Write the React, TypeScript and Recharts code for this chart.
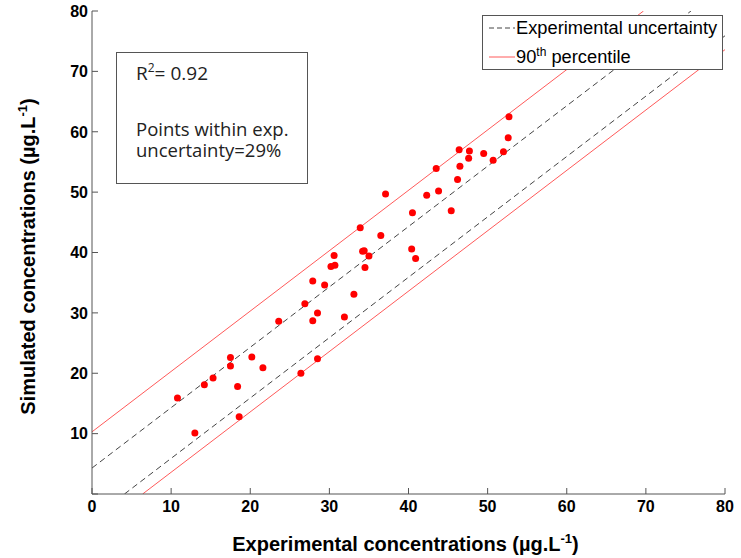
import { ComposedChart, Label, Line, Scatter, XAxis, YAxis } from 'recharts'

const TICKS = [0, 10, 20, 30, 40, 50, 60, 70, 80]

// experimental vs simulated concentrations
const points = [
  { x: 10.8, y: 15.9 }, { x: 13.0, y: 10.1 }, { x: 14.2, y: 18.1 }, { x: 15.3, y: 19.2 },
  { x: 17.5, y: 22.6 }, { x: 17.5, y: 21.2 }, { x: 18.4, y: 17.8 }, { x: 18.6, y: 12.8 },
  { x: 20.2, y: 22.7 }, { x: 21.6, y: 20.9 }, { x: 23.6, y: 28.6 }, { x: 26.4, y: 20.0 },
  { x: 26.9, y: 31.5 }, { x: 27.9, y: 28.7 }, { x: 27.9, y: 35.3 }, { x: 28.5, y: 30.0 },
  { x: 28.5, y: 22.4 }, { x: 29.4, y: 34.6 }, { x: 30.2, y: 37.7 }, { x: 30.7, y: 37.9 },
  { x: 30.6, y: 39.5 }, { x: 31.9, y: 29.3 }, { x: 33.1, y: 33.1 }, { x: 33.9, y: 44.1 },
  { x: 34.2, y: 40.2 }, { x: 34.4, y: 40.3 }, { x: 34.5, y: 37.5 }, { x: 35.0, y: 39.4 },
  { x: 36.5, y: 42.8 }, { x: 37.1, y: 49.7 }, { x: 40.4, y: 40.6 }, { x: 40.9, y: 39.0 },
  { x: 40.5, y: 46.6 }, { x: 42.3, y: 49.5 }, { x: 43.5, y: 53.9 }, { x: 43.8, y: 50.2 },
  { x: 45.4, y: 46.9 }, { x: 46.2, y: 52.1 }, { x: 46.4, y: 57.0 }, { x: 46.5, y: 54.3 },
  { x: 47.6, y: 55.6 }, { x: 47.7, y: 56.8 }, { x: 49.5, y: 56.4 }, { x: 50.7, y: 55.3 },
  { x: 52.0, y: 56.7 }, { x: 52.6, y: 59.0 }, { x: 52.7, y: 62.5 },
]

const uncertaintyUpper = [{ x: 0, y: 4.3 }, { x: 75.7, y: 80 }]
const uncertaintyLower = [{ x: 4.1, y: 0 }, { x: 80, y: 75.9 }]
const percentileUpper = [{ x: 0, y: 10.3 }, { x: 69.7, y: 80 }]
const percentileLower = [{ x: 6.4, y: 0 }, { x: 80, y: 73.6 }]

const AXIS = '#555'
const RED = '#ff0000'
const RED_LINE = '#ff5a5a'
const DASH = '#444'
const tickFont = { fontFamily: '"Liberation Sans", Arial, sans-serif', fontWeight: 700, fontSize: 16, fill: '#000' }
const titleFont = { fontFamily: '"Liberation Sans", Arial, sans-serif', fontWeight: 700, fontSize: 20, fill: '#000' }
const noteFont = '"Open Sans", sans-serif'

const BottomTick = ({ x, y, payload }: any) => (
  <g>
    <line x1={x} x2={x} y1={y} y2={y - 6} stroke={AXIS} />
    <text x={x} y={y + 18} textAnchor="middle" {...tickFont}>{payload.value}</text>
  </g>
)
const LeftTick = ({ x, y, payload }: any) => (
  <g>
    <line x1={x} x2={x + 6} y1={y} y2={y} stroke={AXIS} />
    {payload.value !== 0 && (
      <text x={x - 4} y={y} dy="0.36em" textAnchor="end" {...tickFont}>{payload.value}</text>
    )}
  </g>
)
const TopTick = ({ x, y }: any) => <line x1={x} x2={x} y1={y} y2={y + 6} stroke={AXIS} />
const RightTick = ({ x, y }: any) => <line x1={x} x2={x - 6} y1={y} y2={y} stroke={AXIS} />

const XTitle = ({ viewBox }: any) => (
  <text x={viewBox.x + viewBox.width / 2 - 3} y={viewBox.y + 57} textAnchor="middle" {...titleFont}>
    Experimental concentrations (µg.L<tspan dy={-8} fontSize={13}>-1</tspan><tspan dy={8}>)</tspan>
  </text>
)
const YTitle = ({ viewBox }: any) => {
  const cx = 35
  const cy = viewBox.y + viewBox.height / 2 + 4
  return (
    <text x={cx} y={cy} textAnchor="middle" transform={`rotate(-90 ${cx} ${cy})`} {...titleFont}>
      Simulated concentrations (µg.L<tspan dy={-8} fontSize={13}>-1</tspan><tspan dy={8}>)</tspan>
    </text>
  )
}

export default function App() {
  return (
    <div style={{ position: 'absolute', left: 0, top: 0, width: 741, height: 558, background: '#fff' }}>
      <ComposedChart width={741} height={558} margin={{ top: 11, right: 16, bottom: 0, left: 0 }}>
        <XAxis xAxisId="b" dataKey="x" type="number" domain={[0, 80]} ticks={TICKS} allowDataOverflow
          height={64} tickSize={0} tickMargin={0} tickLine={false} axisLine={{ stroke: AXIS }} tick={<BottomTick />}>
          <Label content={<XTitle />} />
        </XAxis>
        <XAxis xAxisId="t" orientation="top" dataKey="x" type="number" domain={[0, 80]} ticks={TICKS}
          height={0} tickSize={0} tickMargin={0} tickLine={false} axisLine={{ stroke: AXIS }} tick={<TopTick />} />
        <YAxis yAxisId="l" dataKey="y" type="number" domain={[0, 80]} ticks={TICKS} allowDataOverflow
          width={92} tickSize={0} tickMargin={0} tickLine={false} axisLine={{ stroke: AXIS }} tick={<LeftTick />}>
          <Label content={<YTitle />} />
        </YAxis>
        <YAxis yAxisId="r" orientation="right" dataKey="y" type="number" domain={[0, 80]} ticks={TICKS}
          width={0} tickSize={0} tickMargin={0} tickLine={false} axisLine={{ stroke: AXIS }} tick={<RightTick />} />

        <Line xAxisId="b" yAxisId="l" data={percentileUpper} dataKey="y" stroke={RED_LINE} strokeWidth={1} dot={false} isAnimationActive={false} />
        <Line xAxisId="b" yAxisId="l" data={percentileLower} dataKey="y" stroke={RED_LINE} strokeWidth={1} dot={false} isAnimationActive={false} />
        <Line xAxisId="b" yAxisId="l" data={uncertaintyUpper} dataKey="y" stroke={DASH} strokeWidth={1} strokeDasharray="6 4" dot={false} isAnimationActive={false} />
        <Line xAxisId="b" yAxisId="l" data={uncertaintyLower} dataKey="y" stroke={DASH} strokeWidth={1} strokeDasharray="6 4" dot={false} isAnimationActive={false} />
        <Scatter xAxisId="b" yAxisId="l" data={points} dataKey="y" fill={RED} isAnimationActive={false}
          shape={(p: any) => <circle cx={p.cx} cy={p.cy} r={3.5} fill={RED} />} />
      </ComposedChart>

      <svg style={{ position: 'absolute', left: 116, top: 52 }} width={192} height={132}>
        <rect x={0.5} y={0.5} width={191} height={131} fill="#fff" stroke={AXIS} />
        <text x={20} y={28} fontFamily={noteFont} fontSize={19} fill="#222">
          R<tspan dy={-8} fontSize={12}>2</tspan><tspan dy={8}>= 0.92</tspan>
        </text>
        <text x={20} y={84} fontFamily={noteFont} fontSize={18.5} fill="#222">Points within exp.</text>
        <text x={20} y={105} fontFamily={noteFont} fontSize={18.5} fill="#222">uncertainty=29%</text>
      </svg>

      <svg style={{ position: 'absolute', left: 482, top: 15 }} width={241} height={55}>
        <rect x={0.5} y={0.5} width={240} height={54} fill="#fff" stroke={AXIS} />
        <line x1={7} x2={33} y1={13} y2={13} stroke={DASH} strokeDasharray="5 3" />
        <text x={34} y={19} fontFamily='"Liberation Sans", Arial, sans-serif' fontSize={18.3} fill="#000">Experimental uncertainty</text>
        <line x1={7} x2={33} y1={42} y2={42} stroke={RED_LINE} />
        <text x={34} y={48} fontFamily='"Liberation Sans", Arial, sans-serif' fontSize={18.3} fill="#000">
          90<tspan dy={-7} fontSize={12}>th</tspan><tspan dy={7}> percentile</tspan>
        </text>
      </svg>
    </div>
  )
}
